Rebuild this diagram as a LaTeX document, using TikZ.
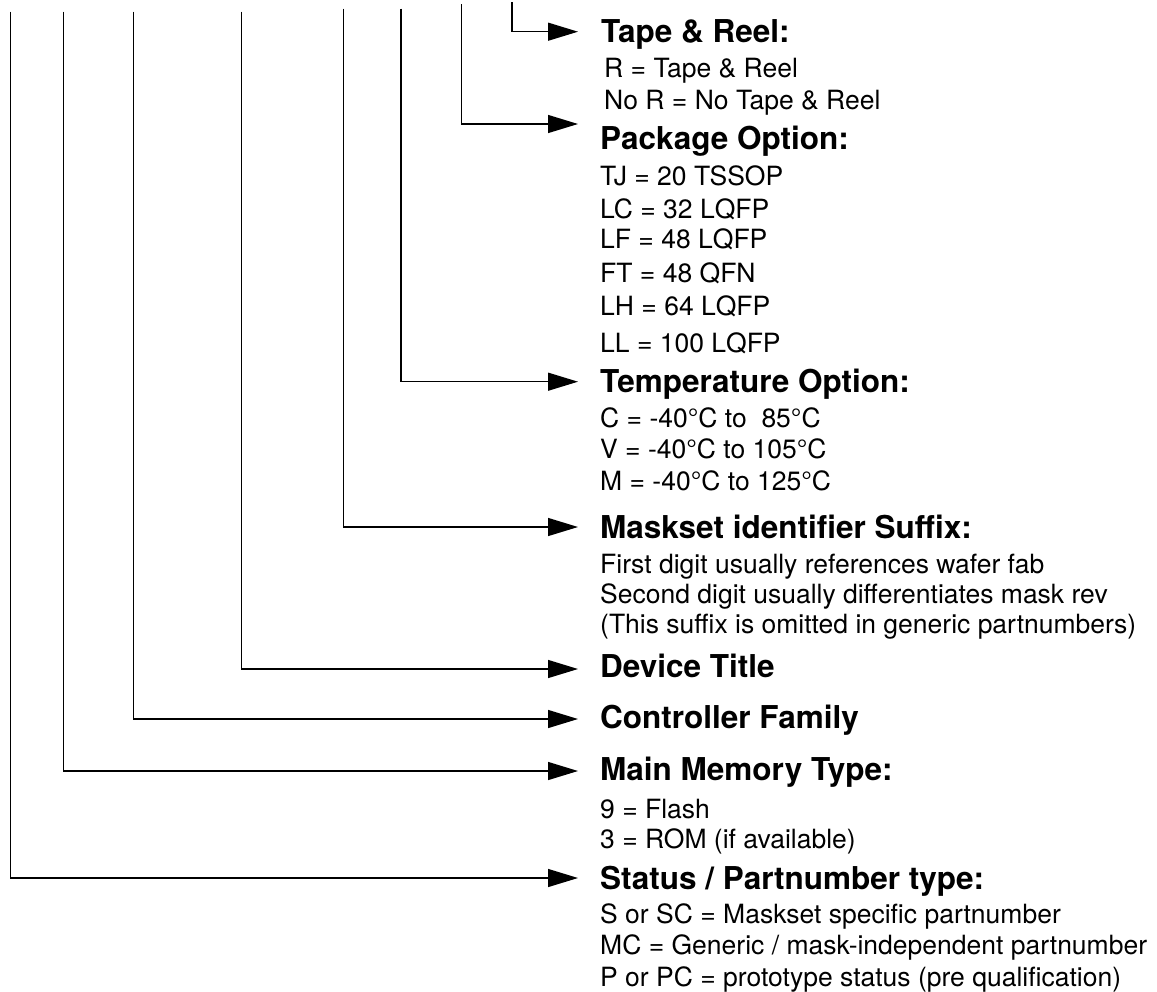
\documentclass[tikz,border=0pt]{standalone}
\usepackage{fontspec}
\setmainfont{TeX Gyre Heros}
\usetikzlibrary{arrows.meta}
\begin{document}
\begin{tikzpicture}[x=1pt,y=-1pt,
  head/.style={anchor=base west,inner sep=0pt,font=\fontsize{31.5}{35}\selectfont\bfseries},
  body/.style={anchor=base west,inner sep=0pt,font=\fontsize{26.5}{30}\selectfont},
  conn/.style={line width=1.3pt,-{Triangle[length=30pt,width=18pt]}}]
\useasboundingbox (0,0) rectangle (1157,991);
% top ends of the leader lines
\coordinate (s1) at (512,2);
\coordinate (s2) at (461.5,4);
\coordinate (s3) at (401,8.5);
\coordinate (s4) at (343.5,8.5);
\coordinate (s5) at (241.5,11.5);
\coordinate (s6) at (133.5,11.5);
\coordinate (s7) at (63.5,11.5);
\coordinate (s8) at (10.4,11.5);
% arrow tips
\coordinate (e1) at (578,31.7);
\coordinate (e2) at (578,124);
\coordinate (e3) at (578,381.7);
\coordinate (e4) at (578,527);
\coordinate (e5) at (578,669);
\coordinate (e6) at (578,719);
\coordinate (e7) at (578,771);
\coordinate (e8) at (578,878);
% Tape & Reel
\node[head] (h1) at (601,42.7) {Tape \& Reel:};
\node[body] (b11) at (604,77) {R = Tape \& Reel};
\node[body] (b12) at (604,109) {No R = No Tape \& Reel};
% Package
\node[head] (h2) at (600,149) {Package Option:};
\node[body] (b21) at (600,185) {TJ = 20 TSSOP};
\node[body] (b22) at (600,218) {LC = 32 LQFP};
\node[body] (b23) at (600,248) {LF = 48 LQFP};
\node[body] (b24) at (600,282) {FT = 48 QFN};
\node[body] (b25) at (600,315) {LH = 64 LQFP};
\node[body] (b26) at (600,352) {LL = 100 LQFP};
% Temperature
\node[head] (h3) at (600,392.7) {Temperature Option:};
\node[body] (b31) at (600,427) {C = -40°C to\ \ 85°C};
\node[body] (b32) at (600,458) {V = -40°C to 105°C};
\node[body] (b33) at (600,490) {M = -40°C to 125°C};
% Maskset
\node[head] (h4) at (600,538) {Maskset identifier Suffix:};
\node[body] (b41) at (600,573) {First digit usually references wafer fab};
\node[body] (b42) at (600,603) {Second digit usually differentiates mask rev};
\node[body] (b43) at (600,633) {(This suffix is omitted in generic partnumbers)};
% Device / Controller
\node[head] (h5) at (600,677) {Device Title};
\node[head] (h6) at (600,728) {Controller Family};
% Main memory
\node[head] (h7) at (600,780) {Main Memory Type:};
\node[body] (b71) at (600,818) {9 = Flash};
\node[body] (b72) at (600,848) {3 = ROM (if available)};
% Status
\node[head] (h8) at (600,889) {Status / Partnumber type:};
\node[body] (b81) at (600,923) {S or SC = Maskset specific partnumber};
\node[body] (b82) at (600,954) {MC = Generic / mask-independent partnumber};
\node[body] (b83) at (600,986) {P or PC = prototype status (pre qualification)};
% connectors
\foreach \i in {1,...,8} \draw[conn] (s\i) |- (e\i);
\end{tikzpicture}
\end{document}
